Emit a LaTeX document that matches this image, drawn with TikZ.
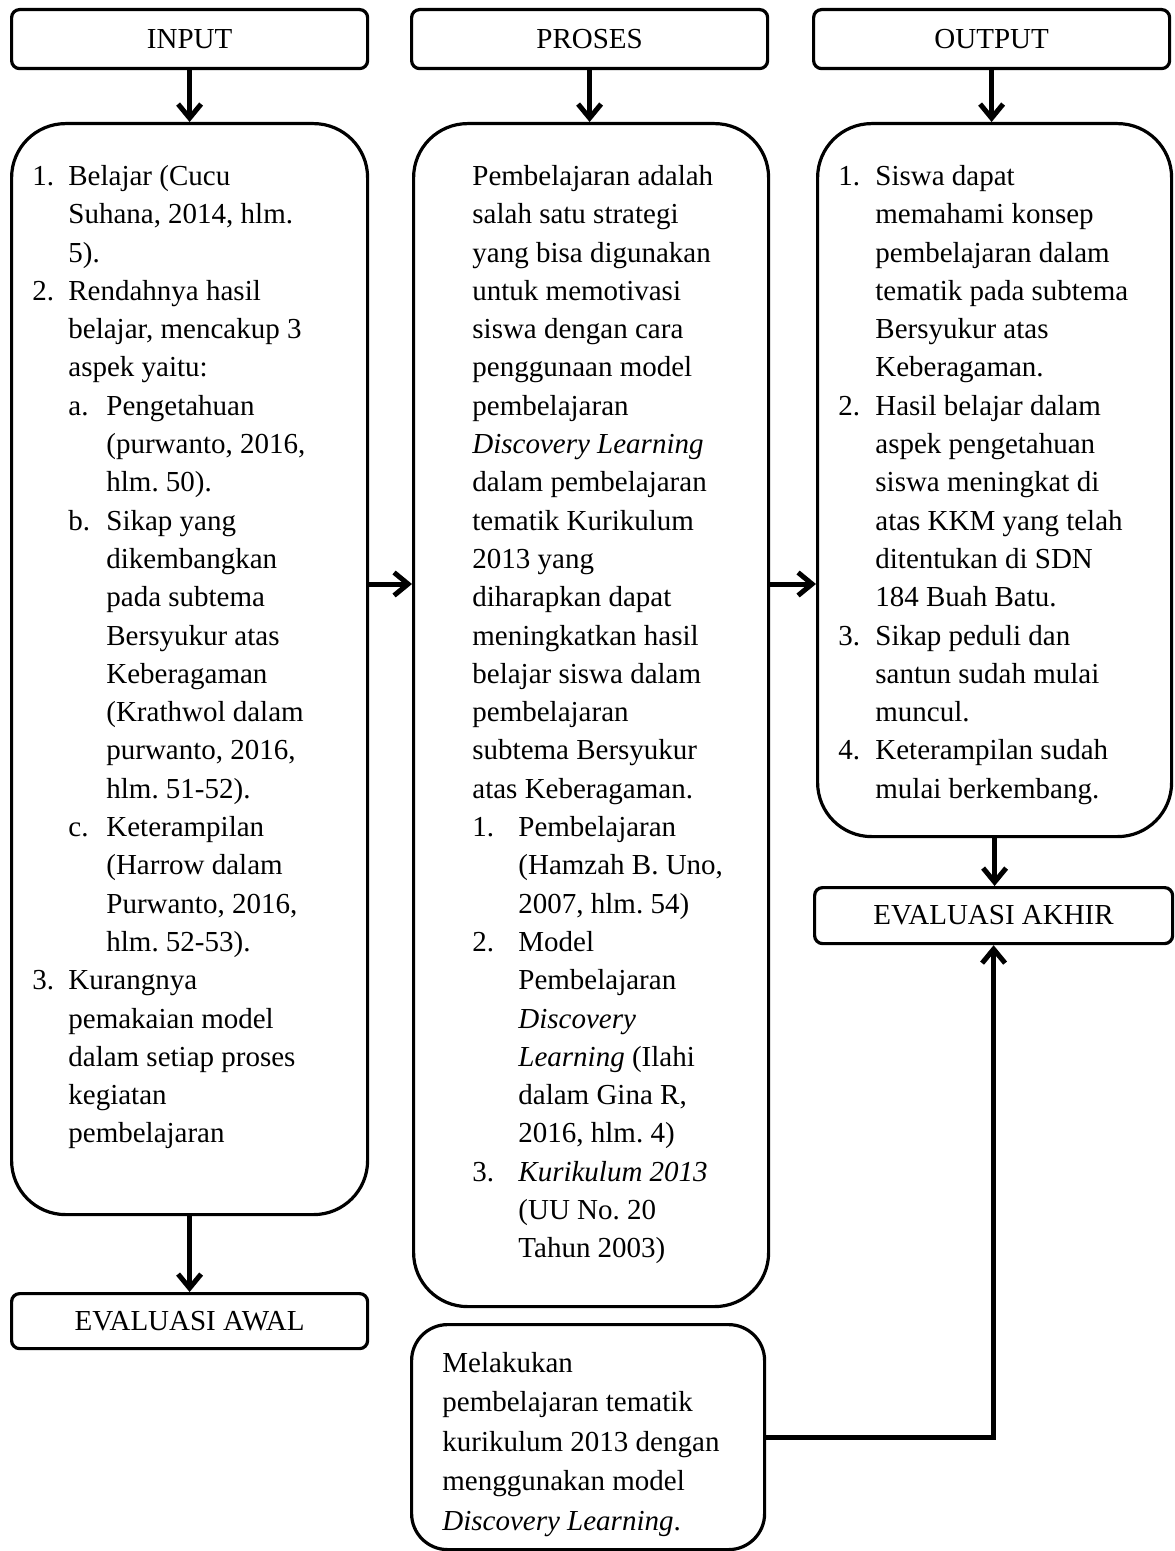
\documentclass[tikz,border=0pt]{standalone}
\usepackage{fontspec}
\setmainfont{Liberation Serif}
\usetikzlibrary{arrows.meta,calc}
\frenchspacing
\newcommand{\diagfont}{\fontsize{14.5pt}{19.15pt}\selectfont}
\newcommand{\diagfontb}{\fontsize{14.5pt}{19.75pt}\selectfont}
\begin{document}
\begin{tikzpicture}[x=0.5pt,y=-0.5pt,
  hbox/.style={draw, line width=1.6pt, rounded corners=4pt, inner sep=0pt, anchor=north west, font=\diagfont},
  bbox/.style={draw, line width=1.6pt, rounded corners=27pt, inner sep=0pt, anchor=north west},
  txt/.style={anchor=north west, inner sep=0pt, align=left, font=\diagfont},
  arr/.style={line width=2.5pt, -{Straight Barb[length=7pt,width=11.5pt]}}]
\useasboundingbox (0,0) rectangle (1174,1551);

% headers
\node[hbox, minimum width=178pt, minimum height=29.5pt] (inhead) at (10,8) {INPUT};
\node[hbox, minimum width=178pt, minimum height=29.5pt] (prhead) at (410,8) {PROSES};
\node[hbox, minimum width=178pt, minimum height=29.5pt] (outhead) at (812,8) {OUTPUT};

% big boxes
\node[bbox, minimum width=178pt, minimum height=545.5pt] (inbox) at (10,122) {};
\node[bbox, minimum width=177.5pt, minimum height=591.5pt] (prbox) at (412,122) {};
\node[bbox, minimum width=177pt, minimum height=356.5pt] (outbox) at (816,122) {};
\node[bbox, rounded corners=18pt, minimum width=176.5pt, minimum height=112.5pt] (mlbox) at (410,1323) {};

% evaluation boxes
\node[hbox, minimum width=178pt, minimum height=27.5pt] (evawal) at (10,1292) {EVALUASI AWAL};
\node[hbox, minimum width=179pt, minimum height=28pt] (evakhir) at (813,886) {EVALUASI AKHIR};

% texts
\node[txt] (intxt) at (32,158.2) {\strut\makebox[18pt][l]{1.}Belajar (Cucu\\
\hspace*{18pt}Suhana, 2014, hlm.\\
\hspace*{18pt}5).\\
\makebox[18pt][l]{2.}Rendahnya hasil\\
\hspace*{18pt}belajar, mencakup 3\\
\hspace*{18pt}aspek yaitu:\\
\hspace*{18pt}\makebox[19pt][l]{a.}Pengetahuan\\
\hspace*{37pt}(purwanto, 2016,\\
\hspace*{37pt}hlm. 50).\\
\hspace*{18pt}\makebox[19pt][l]{b.}Sikap yang\\
\hspace*{37pt}dikembangkan\\
\hspace*{37pt}pada subtema\\
\hspace*{37pt}Bersyukur atas\\
\hspace*{37pt}Keberagaman\\
\hspace*{37pt}(Krathwol dalam\\
\hspace*{37pt}purwanto, 2016,\\
\hspace*{37pt}hlm. 51-52).\\
\hspace*{18pt}\makebox[19pt][l]{c.}Keterampilan\\
\hspace*{37pt}(Harrow dalam\\
\hspace*{37pt}Purwanto, 2016,\\
\hspace*{37pt}hlm. 52-53).\\
\makebox[18pt][l]{3.}Kurangnya\\
\hspace*{18pt}pemakaian model\\
\hspace*{18pt}dalam setiap proses\\
\hspace*{18pt}kegiatan\\
\hspace*{18pt}pembelajaran};

\node[txt] (prtxt) at (472,158.2) {\strut Pembelajaran adalah\\
salah satu strategi\\
yang bisa digunakan\\
untuk memotivasi\\
siswa dengan cara\\
penggunaan model\\
pembelajaran\\
\textit{Discovery Learning}\\
dalam pembelajaran\\
tematik Kurikulum\\
2013 yang\\
diharapkan dapat\\
meningkatkan hasil\\
belajar siswa dalam\\
pembelajaran\\
subtema Bersyukur\\
atas Keberagaman.\\
\makebox[23pt][l]{1.}Pembelajaran\\
\hspace*{23pt}(Hamzah B. Uno,\\
\hspace*{23pt}2007, hlm. 54)\\
\makebox[23pt][l]{2.}Model\\
\hspace*{23pt}Pembelajaran\\
\hspace*{23pt}\textit{Discovery}\\
\hspace*{23pt}\textit{Learning} (Ilahi\\
\hspace*{23pt}dalam Gina R,\\
\hspace*{23pt}2016, hlm. 4)\\
\makebox[23pt][l]{3.}\textit{Kurikulum 2013}\\
\hspace*{23pt}(UU No. 20\\
\hspace*{23pt}Tahun 2003)};

\node[txt] (outtxt) at (838,158.2) {\strut\makebox[18.5pt][l]{1.}Siswa dapat\\
\hspace*{18.5pt}memahami konsep\\
\hspace*{18.5pt}pembelajaran dalam\\
\hspace*{18.5pt}tematik pada subtema\\
\hspace*{18.5pt}Bersyukur atas\\
\hspace*{18.5pt}Keberagaman.\\
\makebox[18.5pt][l]{2.}Hasil belajar dalam\\
\hspace*{18.5pt}aspek pengetahuan\\
\hspace*{18.5pt}siswa meningkat di\\
\hspace*{18.5pt}atas KKM yang telah\\
\hspace*{18.5pt}ditentukan di SDN\\
\hspace*{18.5pt}184 Buah Batu.\\
\makebox[18.5pt][l]{3.}Sikap peduli dan\\
\hspace*{18.5pt}santun sudah mulai\\
\hspace*{18.5pt}muncul.\\
\makebox[18.5pt][l]{4.}Keterampilan sudah\\
\hspace*{18.5pt}mulai berkembang.};

\node[txt, font=\diagfontb] (mltxt) at (442,1344.4) {\strut Melakukan\\
pembelajaran tematik\\
kurikulum 2013 dengan\\
menggunakan model\\
\textit{Discovery Learning}.};

% connectors
\coordinate (hy) at (0,584);
\draw[arr] (inhead.south) -- (inbox.north);
\draw[arr] (prhead.south) -- (prhead.south |- prbox.north);
\draw[arr] (outhead.south) -- (outhead.south |- outbox.north);
\draw[arr] (inbox.east |- hy) -- (prbox.west |- hy);
\draw[arr] (prbox.east |- hy) -- (outbox.west |- hy);
\draw[arr] (inbox.south) -- (evawal.north);
\draw[arr] (outbox.south) -- (outbox.south |- evakhir.north);
\draw[arr] (mlbox.east) -| (evakhir.south);
\end{tikzpicture}
\end{document}
